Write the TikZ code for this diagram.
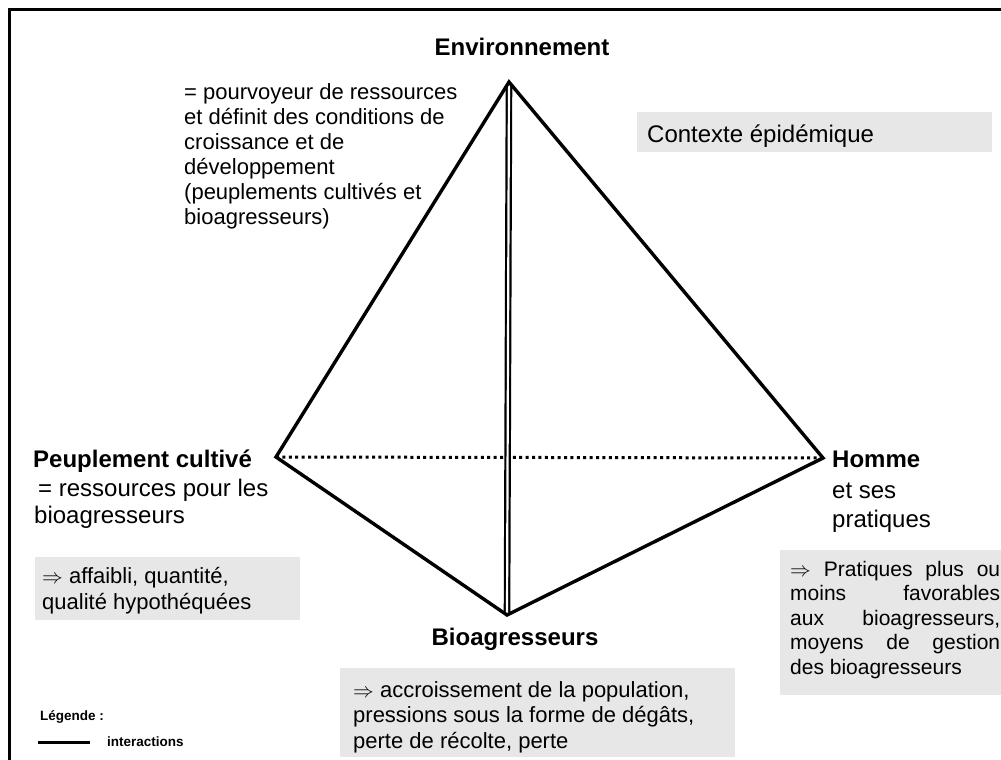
\documentclass[tikz,border=0pt]{standalone}
\usepackage{fontspec}
\setmainfont{Liberation Sans}
\definecolor{boxgray}{RGB}{231,231,231}
\tikzset{
  edge/.style={line width=3.4pt, line join=miter},
  dbl/.style={line width=2.2pt, double=white, double distance=2.2pt},
  dots/.style={line width=3pt, dash pattern=on 3pt off 3.4pt},
  frame/.style={line width=3pt},
  graybox/.style={fill=boxgray, draw=none},
  boldlbl/.style={font=\fontsize{24}{28}\selectfont\bfseries, inner sep=0pt},
  txt/.style={inner sep=0pt, anchor=north west, align=left},
  small/.style={font=\fontsize{13.5}{16}\selectfont\bfseries, inner sep=0pt, anchor=base west},
}
\begin{document}
\begin{tikzpicture}[x=1pt,y=-1pt]
\useasboundingbox (0,0) rectangle (1001,760);
% frame
\draw[frame] (9,762) -- (9,10) -- (1003,10);
% gray boxes
\fill[graybox] (637,112) rectangle (992,152);
\fill[graybox] (35,557) rectangle (300,620);
\fill[graybox] (780,550) rectangle (1001,695);
\fill[graybox] (340,668) rectangle (735,757);
% vertices
\coordinate (E) at (509,82);
\coordinate (P) at (276,457);
\coordinate (H) at (823,458);
\coordinate (B) at (507,615);
% connectors
\draw[dots] (P) -- (H);
\draw[dbl, shorten <=3pt, shorten >=3pt] (E) -- (B);
\draw[edge] (E) -- (P) -- (B) -- (H) -- cycle;
% labels
\node[boldlbl, anchor=base] (envl) at (522,56) {Environnement};
\node[txt, font=\fontsize{22}{25}\selectfont] (envt) at (184,81.5)
  {\strut= pourvoyeur de ressources\\et définit des conditions de\\croissance et de\\développement\\(peuplements cultivés et\\bioagresseurs)};
\node[inner sep=0pt, anchor=base west, font=\fontsize{24}{28}\selectfont] (ctx) at (647,142) {Contexte épidémique};
\node[boldlbl, anchor=base west] (pl) at (33,467) {Peuplement cultivé};
\node[txt, font=\fontsize{24}{27}\selectfont] (pt) at (34,477.1)
  {\strut\hspace{4pt}= ressources pour les\\bioagresseurs};
\node[txt, font=\fontsize{22}{26}\selectfont] (pb) at (42,564.8)
  {\strut$\Rightarrow$ affaibli, quantité,\\qualité hypothéquées};
\node[boldlbl, anchor=base west] (hl) at (832,467) {Homme};
\node[txt, font=\fontsize{24}{29}\selectfont] (ht) at (832,477.7)
  {\strut et ses\\pratiques};
\node[inner sep=0pt, anchor=north west, text width=210pt, align=justify, font=\fontsize{21}{24.5}\selectfont] (hb) at (790,558.9)
  {\strut$\Rightarrow$ Pratiques plus ou\linebreak moins favorables\linebreak aux bioagresseurs,\linebreak moyens de gestion\linebreak des bioagresseurs};
\node[boldlbl, anchor=base] (bl) at (515,645) {Bioagresseurs};
\node[txt, font=\fontsize{22}{25.5}\selectfont] (bb) at (353,679.2)
  {\strut$\Rightarrow$ accroissement de la population,\\pressions sous la forme de dégâts,\\perte de récolte, perte};
% legend
\node[small] (leg) at (40,720) {Légende :};
\coordinate (l1) at (38,742);
\coordinate (l2) at (90,742);
\draw[line width=3pt] (l1) -- (l2);
\node[small] (legi) at (107,746) {interactions};
\end{tikzpicture}
\end{document}
